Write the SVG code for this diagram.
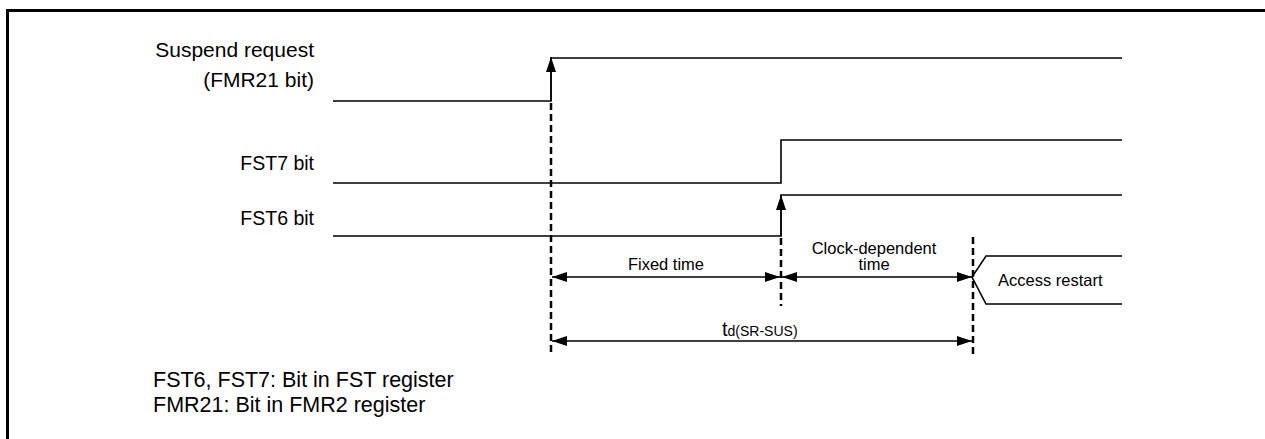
<svg xmlns="http://www.w3.org/2000/svg" width="1265" height="439" viewBox="0 0 1265 439">
<style>
text{font-family:"Liberation Sans",Arial,sans-serif;fill:#000}
.lbl{font-size:21px}
.sm{font-size:16.5px}
.sig{fill:none;stroke:#000;stroke-width:1.6}
.dash{fill:none;stroke:#000;stroke-width:2.5;stroke-dasharray:7,4}
.dim{fill:none;stroke:#000;stroke-width:1.4}
</style>
<defs>
<marker id="ah" markerWidth="15" markerHeight="10" refX="15" refY="5" orient="auto" markerUnits="userSpaceOnUse">
<path d="M0,0 L15,5 L0,10 Z" fill="#000"/>
</marker>
</defs>
<rect x="7.5" y="10.5" width="1270" height="440" fill="none" stroke="#000" stroke-width="3"/>
<g id="labels">
<text class="lbl" x="314" y="57" text-anchor="end">Suspend request</text>
<text class="lbl" x="314" y="87" text-anchor="end">(FMR21 bit)</text>
<text class="lbl" x="314" y="170" text-anchor="end" style="font-size:19.5px">FST7 bit</text>
<text class="lbl" x="314" y="225" text-anchor="end" style="font-size:19.5px">FST6 bit</text>
</g>
<g id="sig-fmr21">
<polyline class="sig" points="333,101 551,101 551,58 1122,58"/>
</g>
<g id="sig-fst7">
<polyline class="sig" points="333,183 781,183 781,140 1122,140"/>
</g>
<g id="sig-fst6">
<polyline class="sig" points="333,236 781,236 781,195 1122,195"/>
</g>
<g id="access-restart">
<polyline class="sig" points="1122,256 986,256 972,277 986,304 1122,304"/>
<text class="sm" x="998" y="286">Access restart</text>
</g>
<g id="connectors">
<line class="dim" x1="551" y1="101" x2="551" y2="57" marker-end="url(#ah)"/>
<line class="dim" x1="781" y1="236" x2="781" y2="195" marker-end="url(#ah)"/>
<line class="dash" x1="551" y1="103" x2="551" y2="356"/>
<line class="dash" x1="781" y1="238" x2="781" y2="306"/>
<line class="dash" x1="973" y1="237" x2="973" y2="358"/>
<line class="dim" x1="666" y1="277" x2="552" y2="277" marker-end="url(#ah)"/>
<line class="dim" x1="666" y1="277" x2="780" y2="277" marker-end="url(#ah)"/>
<line class="dim" x1="876" y1="277" x2="782" y2="277" marker-end="url(#ah)"/>
<line class="dim" x1="876" y1="277" x2="972" y2="277" marker-end="url(#ah)"/>
<line class="dim" x1="762" y1="341" x2="552" y2="341" marker-end="url(#ah)"/>
<line class="dim" x1="762" y1="341" x2="972" y2="341" marker-end="url(#ah)"/>
</g>
<g id="dim-labels">
<text class="sm" x="666" y="270" text-anchor="middle">Fixed time</text>
<text class="sm" x="874" y="254" text-anchor="middle">Clock-dependent</text>
<text class="sm" x="874" y="270" text-anchor="middle">time</text>
<text x="722" y="336" style="font-size:20px">t<tspan style="font-size:14px">d(SR-SUS)</tspan></text>
</g>
<g id="notes">
<text class="lbl" x="153" y="387" style="font-size:21.5px">FST6, FST7: Bit in FST register</text>
<text class="lbl" x="153" y="412" style="font-size:21.5px">FMR21: Bit in FMR2 register</text>
</g>
</svg>
